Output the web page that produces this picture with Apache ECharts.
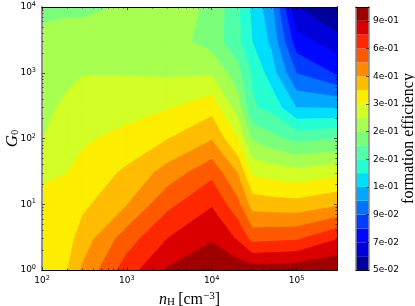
<!DOCTYPE html>
<html><head><meta charset="utf-8">
<style>html,body{margin:0;padding:0;background:#fff}#c{width:415px;height:306px}</style>
<script src="https://cdn.jsdelivr.net/npm/echarts@6/dist/echarts.min.js"></script>
</head><body><div id="c"></div>
<script>
const nH = [100, 200, 300, 1000, 3000, 10000, 20000, 30000, 50000, 100000, 300000];
const G0 = [1, 3, 10, 30, 100, 300, 1000, 3000, 10000];
const row1     = [.3236, .3813, .458, .672, .868, .957, .942, .928, .928, .942, .987];
const row3     = [.336, .3586, .411, .572, .726, .840, .715, .585, .595, .604, .72];
const row10    = [.342, .3501, .367, .445, .591, .715, .554, .417, .408, .403, .435];
const row30    = [.315, .3246, .342, .393, .479, .591, .448, .316, .305, .294, .310];
const row100   = [.2755, .3005, .317, .342, .3785, .441, .327, .2307, .2107, .191, .200];
const row300   = [.264, .286, .297, .305, .320, .359, .256, .1734, .1628, .1226, .1217];
const row1000  = [.2516, .266, .2746, .2742, .270, .272, .214, .1666, .1343, .0888, .0745];
const row3000  = [.2414, .2475, .2516, .260, .256, .2195, .179, .1451, .1198, .0694, .0594];
const row10000 = [.230, .230, .228, .2393, .260, .2265, .1764, .1397, .1106, .0557, .045];
const efficiency = [row1, row3, row10, row30, row100, row300, row1000, row3000, row10000];
const levels = [.047, .0552, .0649, .0762, .0895, .1051, .1235, .1451, .1704, .2002, .2352, .2763, .3246, .3813, .4479, .5262, .6181, .7261, .853, 1.002];
const colors = ['#00009e','#0000db','#0007ff','#003cff','#0072ff','#00a8ff','#00ddfd','#25ffd2','#50ffa7','#7bff7b','#a7ff50','#d2ff25','#fdee00','#ffbc00','#ff8b00','#ff5900','#ff2700','#db0000','#9e0000'];
const cbarLabels = ['5e-02','7e-02','9e-02','1e-01','2e-01','2e-01','3e-01','4e-01','6e-01','9e-01'];
const xMajor = [100, 1000, 10000, 100000];
const yMajor = [1, 10, 100, 1000, 10000];
const xMinor = [200,300,400,500,600,700,800,900,2000,3000,4000,5000,6000,7000,8000,9000,20000,30000,40000,50000,60000,70000,80000,90000,200000,300000];
const yMinor = [2,3,4,5,6,7,8,9,20,30,40,50,60,70,80,90,200,300,400,500,600,700,800,900,2000,3000,4000,5000,6000,7000,8000,9000];

function clip(poly, level) {
  const out = [];
  for (let i = 0; i < poly.length; i++) {
    const a = poly[i], b = poly[(i + 1) % poly.length];
    const ia = a[2] >= level, ib = b[2] >= level;
    if (ia) out.push(a);
    if (ia !== ib) {
      const t = (level - a[2]) / (b[2] - a[2]);
      out.push([a[0] + t * (b[0] - a[0]), a[1] + t * (b[1] - a[1]), level]);
    }
  }
  return out;
}
// each band paints everything at or above its lower level; higher bands paint over it
function bandPolys(band) {
  const lo = band === 0 ? -Infinity : Math.log(levels[band]);
  const res = [];
  for (let j = 0; j < G0.length - 1; j++) for (let i = 0; i < nH.length - 1; i++) {
    let p = [[i, j], [i + 1, j], [i + 1, j + 1], [i, j + 1]].map(([a, b]) =>
      [Math.log10(nH[a]), Math.log10(G0[b]), Math.log(efficiency[b][a])]);
    if (lo > -Infinity) p = clip(p, lo);
    if (p.length > 2) res.push(p);
  }
  return res;
}
const sup = {b: {fontSize: 9, fontFamily: 'DejaVu Sans', color: '#000'}, s: {fontSize: 6.5, fontFamily: 'DejaVu Sans', color: '#000', padding: [0, 0, 5, 0]}};
const powLabel = v => '{b|10}{s|' + Math.round(Math.log10(v)) + '}';
const spine = (color, w) => ({show: true, onZero: false, lineStyle: {color: color, width: w}});
function logAxis(kind, pos, vals, len, extra) {
  return Object.assign({
    type: 'log', logBase: 10, gridIndex: 0, position: pos, z: 5,
    min: kind === 'x' ? 100 : 1, max: kind === 'x' ? 300000 : 10000,
    splitLine: {show: false}, minorTick: {show: false}, minorSplitLine: {show: false},
    axisLine: spine(kind === 'y' && pos === 'left' ? '#8a8a8a' : '#000', kind === 'y' && pos === 'left' ? 1.5 : 1),
    axisTick: {show: true, inside: true, length: len, customValues: vals, lineStyle: {color: '#000', width: .6}},
    axisLabel: {show: false}
  }, extra || {});
}
const xLabelAxis = {
  axisLabel: {show: true, customValues: xMajor, formatter: powLabel, rich: sup, margin: 5},
  name: '{i|n}{u|H} {t|[cm}{p|−3}{t|]}', nameLocation: 'middle', nameGap: 21, nameMoveOverlap: false,
  nameTextStyle: {rich: {
    i: {fontFamily: 'Liberation Serif', fontStyle: 'italic', fontSize: 16, color: '#000'},
    u: {fontFamily: 'Liberation Serif', fontSize: 11, color: '#000', padding: [5, 0, 0, 0]},
    t: {fontFamily: 'Liberation Serif', fontSize: 16, color: '#000'},
    p: {fontFamily: 'Liberation Serif', fontSize: 11, color: '#000', padding: [0, 0, 7, 0]}
  }}
};
const yLabelAxis = {
  axisLabel: {show: true, customValues: yMajor, formatter: powLabel, rich: sup, margin: 6},
  name: '{i|G}{u|0}', nameLocation: 'middle', nameGap: 21, nameRotate: 90, nameMoveOverlap: false,
  nameTextStyle: {rich: {
    i: {fontFamily: 'Liberation Serif', fontStyle: 'italic', fontSize: 17, color: '#000'},
    u: {fontFamily: 'Liberation Serif', fontSize: 10, color: '#000', padding: [5, 0, 0, 0]}
  }}
};
const bands = colors.map((c, i) => i);
const option = {
  animation: false,
  backgroundColor: '#fff',
  grid: [
    {left: 42, top: 7, width: 295, height: 263, outerBoundsMode: 'none', containLabel: false},
    {left: 356, top: 7, width: 13, height: 263, outerBoundsMode: 'none', containLabel: false}
  ],
  xAxis: [
    logAxis('x', 'bottom', xMajor, 3, xLabelAxis),
    logAxis('x', 'bottom', xMinor, 1.5),
    logAxis('x', 'top', xMajor, 3),
    logAxis('x', 'top', xMinor, 1.5),
    {type: 'value', gridIndex: 1, min: 0, max: 1, position: 'bottom', z: 5, axisLine: spine('#000', 1), axisTick: {show: false}, axisLabel: {show: false}, splitLine: {show: false}},
    {type: 'value', gridIndex: 1, min: 0, max: 1, position: 'top', z: 5, axisLine: spine('#000', 1), axisTick: {show: false}, axisLabel: {show: false}, splitLine: {show: false}}
  ],
  yAxis: [
    logAxis('y', 'left', yMajor, 3, yLabelAxis),
    logAxis('y', 'left', yMinor, 1.5),
    logAxis('y', 'right', yMajor, 3),
    logAxis('y', 'right', yMinor, 1.5),
    {type: 'category', gridIndex: 1, data: levels.map(String), boundaryGap: false, position: 'right', z: 5,
     axisLine: spine('#8a8a8a', 1.5),
     axisTick: {show: true, inside: true, length: 3, interval: 1, lineStyle: {color: '#000', width: .6}},
     axisLabel: {show: true, interval: 1, margin: 4, fontFamily: 'DejaVu Sans', fontSize: 9, color: '#000',
       formatter: (v, i) => cbarLabels[i / 2]},
     name: 'formation efficiency', nameLocation: 'middle', nameGap: 32, nameRotate: 90, nameMoveOverlap: false,
     nameTextStyle: {fontFamily: 'Liberation Serif', fontSize: 16, color: '#000'}},
    {type: 'category', gridIndex: 1, data: levels.map(String), boundaryGap: false, position: 'left', z: 5,
     axisLine: spine('#8a8a8a', 1.5), axisTick: {show: false}, axisLabel: {show: false}}
  ],
  series: [
    {type: 'custom', coordinateSystem: 'cartesian2d', xAxisIndex: 0, yAxisIndex: 0, clip: true, silent: true,
     encode: {x: 0, y: 1},
     data: bands.map(b => [nH[0], G0[0], b]),
     renderItem: (params, api) => {
       const b = api.value(2);
       return {type: 'group', children: bandPolys(b).map(poly => ({
         type: 'polygon',
         shape: {points: poly.map(p => api.coord([Math.pow(10, p[0]), Math.pow(10, p[1])]))},
         style: {fill: colors[b], stroke: colors[b], lineWidth: .8}
       }))};
     }},
    {type: 'custom', coordinateSystem: 'cartesian2d', xAxisIndex: 4, yAxisIndex: 4, silent: true,
     encode: {x: 0, y: 1},
     data: bands.map(b => [0, b, b]),
     renderItem: (params, api) => {
       const b = params.dataIndex;
       const p0 = api.coord([0, b]), p1 = api.coord([1, b + 1]);
       return {type: 'rect', shape: {x: p0[0], y: p1[1], width: p1[0] - p0[0], height: p0[1] - p1[1]},
         style: {fill: colors[b]}};
     }}
  ]
};
echarts.init(document.getElementById('c'), null, {renderer: 'canvas'}).setOption(option);
</script></body></html>
